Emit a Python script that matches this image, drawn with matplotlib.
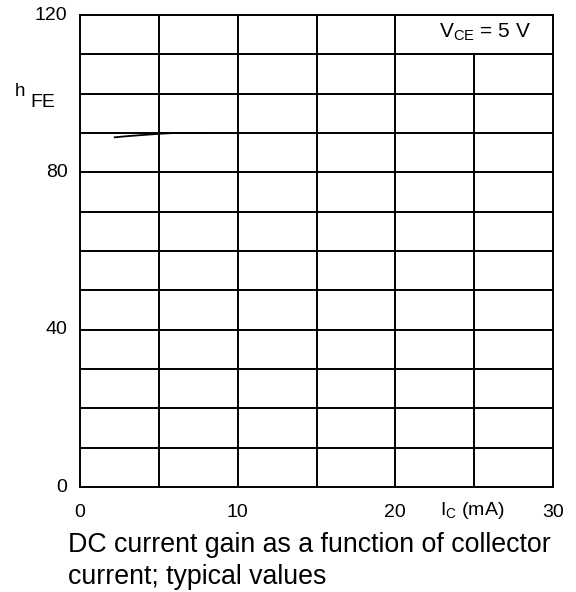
import matplotlib
matplotlib.use("Agg")
import matplotlib.pyplot as plt

# curve
IC_MA = [2.2, 3.0, 4.0, 5.0, 6.0, 7.0, 8.2]
HFE = [88.9, 89.2, 89.5, 89.8, 90.0, 90.0, 90.0]

X_TICKS = [0, 10, 20, 30]
Y_TICKS = [0, 40, 80, 120]
X_GRID = [5, 10, 15, 20, 25]
Y_GRID = [10, 20, 30, 40, 50, 60, 70, 80, 90, 100, 110]

plt.rcParams["font.family"] = ["Liberation Sans", "DejaVu Sans"]

W, H = 576, 592
fig = plt.figure(figsize=(W / 100, H / 100), dpi=100)
ax = fig.add_axes([80 / W, 1 - 487 / H, 473 / W, 472 / H])
ax.set_xlim(0, 30)
ax.set_ylim(0, 120)

lw = 1.4
for y in Y_GRID:
    ax.axhline(y, color="black", linewidth=lw, zorder=1)
for x in X_GRID:
    # the 25 mA line stops under the V_CE label
    top = 110 if x == 25 else 120
    ax.plot([x, x], [0, top], color="black", linewidth=lw, zorder=1)

ax.plot(IC_MA, HFE, color="black", linewidth=1.3, zorder=2)

for s in ax.spines.values():
    s.set_linewidth(lw)
    s.set_color("black")

ax.set_xticks(X_TICKS)
ax.set_yticks(Y_TICKS)
ax.tick_params(length=0, labelsize=14)
ax.tick_params(axis="x", pad=12)
ax.tick_params(axis="y", pad=9)
for t in ax.get_yticklabels():
    t.set_verticalalignment("center")

fig.text(439 / W, 1 - 37 / H, r"V$_{\mathregular{CE}}$ = 5 V", fontsize=15,
         ha="left", va="baseline")

fig.text(15 / W, 1 - 96 / H, "h", fontsize=13.5, ha="left", va="baseline")
fig.text(30 / W, 1 - 107 / H, "FE", fontsize=14, ha="left", va="baseline")

fig.text(440 / W, 1 - 515 / H, r"I$_{\mathregular{C}}$ (mA)", fontsize=14,
         ha="left", va="baseline")

fig.text(68 / W, 1 - 552 / H, "DC current gain as a function of collector",
         fontsize=19.3, ha="left", va="baseline")
fig.text(68 / W, 1 - 584 / H, "current; typical values",
         fontsize=19.3, ha="left", va="baseline")

fig.savefig("out.png", dpi=100, facecolor="white")
